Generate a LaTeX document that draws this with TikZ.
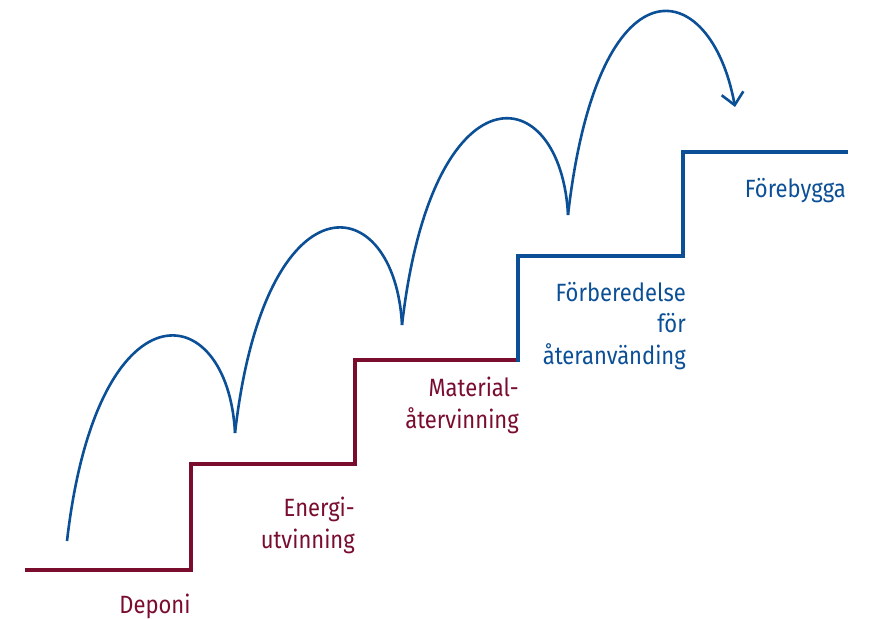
\documentclass[tikz,border=0pt]{standalone}
\usepackage{fontspec}
\setmainfont[FakeStretch=0.88]{Fira Sans}
\usetikzlibrary{arrows.meta}
\definecolor{stairred}{HTML}{7A0C2E}
\definecolor{stairblue}{HTML}{0B4F96}

\begin{document}
\begin{tikzpicture}[x=1pt, y=-1pt,
  stairs/.style={line width=4pt, line join=miter},
  jump/.style={stairblue, line width=2.6pt},
  lbl/.style={inner sep=0pt, align=right, font=\fontsize{25}{31.5}\selectfont}]
\useasboundingbox (0,0) rectangle (874,618);
% The stairs
\draw[stairs, stairred] (25,570) -| (191,464) -| (355,360) -- (520,360);
\draw[stairs, stairblue] (518,362) |- (683,256) |- (848,152);
% The jumps
\coordinate (j0) at (67,541);
\coordinate (j1) at (235,433);
\coordinate (j2) at (402,325);
\coordinate (j3) at (568,215);
\coordinate (j4) at (735,107);
\foreach \a/\b in {j0/j1, j1/j2, j2/j3}
  \draw[jump] (\a) .. controls +(30,-262) and +(-7,-137) .. (\b);
\draw[jump, -{Straight Barb[length=12pt, width=22pt]}] (j3) .. controls +(30,-262) and +(-24,-132) .. (j4);
% The labels
\node[lbl, stairred, anchor=base] (deponi) at (155,613) {Deponi};
\node[lbl, stairred, anchor=base east] (energi) at (355,548) {Energi-\\utvinning};
\node[lbl, stairred, anchor=base east] (material) at (519,428) {Material-\\återvinning};
\node[lbl, stairblue, anchor=base east] (forberedelse) at (686,364) {Förberedelse\\för\\återanvänding};
\node[lbl, stairblue, anchor=base east] (forebygga) at (846,197) {Förebygga};
\end{tikzpicture}
\end{document}
